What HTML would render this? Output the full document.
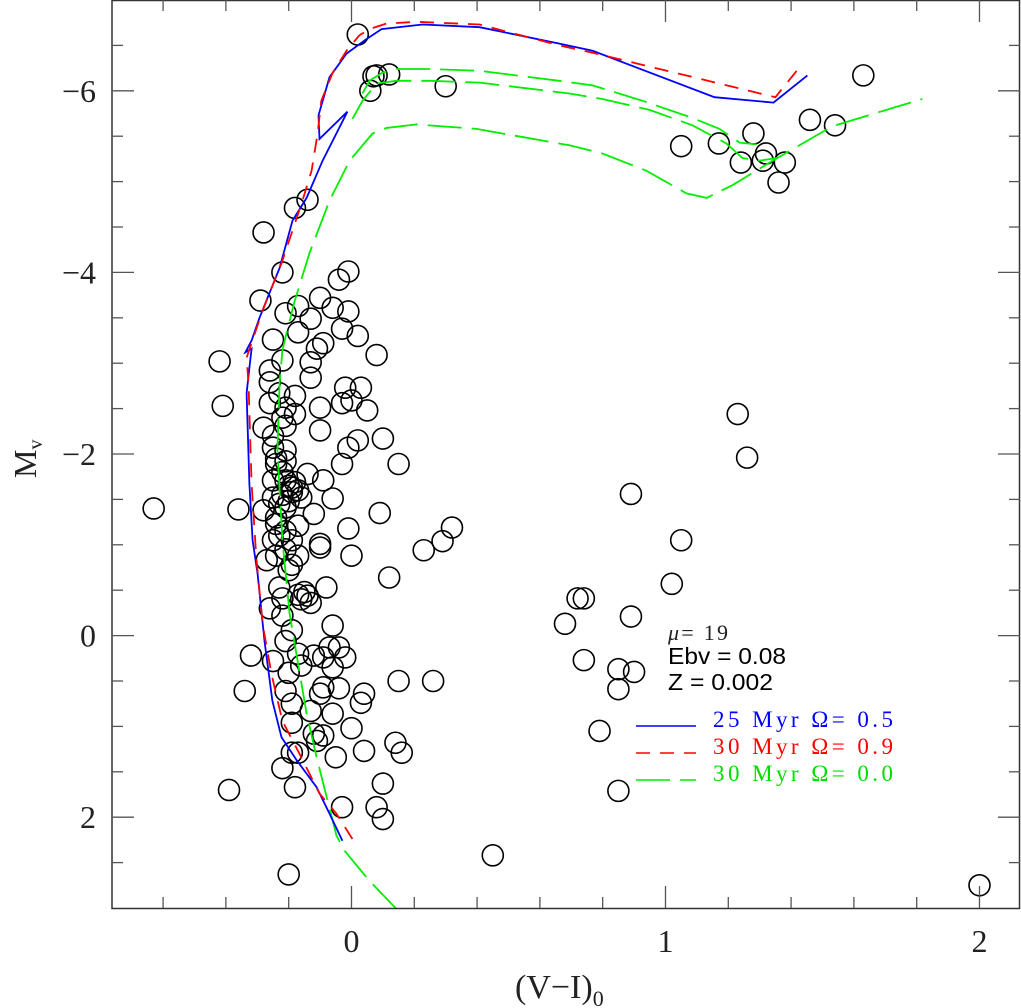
<!DOCTYPE html>
<html><head><meta charset="utf-8"><style>
html,body{margin:0;padding:0;background:#fff;}
svg{display:block;}
</style></head><body>
<svg id="chart" width="1021" height="1008" viewBox="0 0 1021 1008" xmlns="http://www.w3.org/2000/svg">
<g id="marks"></g>
<g id="axes"></g>
<g>
<text x="668" y="640" font-family="Liberation Serif, serif" font-size="22" fill="#222" textLength="60" lengthAdjust="spacing"><tspan font-style="italic">μ</tspan>=  19</text>
<text x="668" y="664" font-family="Liberation Sans, sans-serif" font-size="23" fill="#000" textLength="118" lengthAdjust="spacingAndGlyphs">Ebv = 0.08</text>
<text x="668" y="690" font-family="Liberation Sans, sans-serif" font-size="23" fill="#000" textLength="105" lengthAdjust="spacingAndGlyphs">Z = 0.002</text>
</g>
<g>
<line x1="636" y1="726" x2="696" y2="726" stroke="#0000ff" stroke-width="1.5"/>
<text x="713" y="727" font-family="Liberation Serif, serif" font-size="23" fill="#0000ff" textLength="180" lengthAdjust="spacing">25  Myr  Ω=  0.5</text>
<line x1="636" y1="753" x2="696" y2="753" stroke="#ff0000" stroke-width="1.5" stroke-dasharray="14 10"/>
<text x="713" y="754" font-family="Liberation Serif, serif" font-size="23" fill="#ff0000" textLength="180" lengthAdjust="spacing">30  Myr  Ω=  0.9</text>
<line x1="636" y1="780" x2="696" y2="780" stroke="#00ee00" stroke-width="1.5" stroke-dasharray="34 10"/>
<text x="713" y="781" font-family="Liberation Serif, serif" font-size="23" fill="#00dd00" textLength="180" lengthAdjust="spacing">30  Myr  Ω=  0.0</text>
</g>
<text x="515" y="998" font-family="Liberation Serif, serif" font-size="34" fill="#222">(V−I)<tspan font-size="22" dy="8">0</tspan></text>
<text transform="translate(36,478) rotate(-90)" font-family="Liberation Serif, serif" font-size="32" fill="#222">M<tspan font-size="20" dy="6">v</tspan></text>
</svg>
<script>
const starsVI = [0.02,0.07,0.08,0.12,0.06,0.30,1.05,1.17,1.28,1.24,1.32,1.31,1.38,1.36,1.46,1.54,1.63,-0.18,-0.14,-0.28,-0.42,-0.41,-0.63,-0.36,-0.39,-0.20,2.00,0.45,1.23,1.26,0.89,1.05,1.02,0.72,0.74,0.68,0.89,0.74,0.85,0.90,0.85,0.79,0.85,0.23,0.29,0.32,0.26,
-0.22,-0.01,-0.04,-0.29,-0.10,-0.17,-0.21,-0.06,-0.01,-0.13,-0.03,0.02,-0.17,-0.25,-0.09,0.08,-0.11,-0.22,-0.13,-0.26,-0.13,-0.02,0.03,-0.26,-0.23,-0.18,0.00,0.05,-0.03,-0.26,-0.10,-0.18,-0.21,-0.28,-0.10,-0.21,0.10,0.02,-0.01,-0.25,-0.21,-0.03,0.15,-0.24,-0.14,-0.09,-0.06,-0.25,-0.21,-0.19,-0.25,0.09,-0.12,-0.28,-0.21,-0.24,-0.17,-0.01,-0.10,-0.25,-0.19,
-0.20,-0.19,-0.17,-0.22,-0.20,-0.18,-0.23,-0.16,-0.22,-0.24,-0.21,-0.22,-0.25,-0.24,-0.21,-0.23,
-0.10,0.00,0.12,-0.24,-0.17,-0.27,-0.20,-0.08,-0.23,-0.14,-0.13,-0.22,-0.26,-0.22,-0.06,-0.19,-0.21,-0.32,-0.25,-0.17,-0.07,-0.04,-0.12,-0.09,-0.02,-0.16,-0.20,-0.06,0.15,-0.34,-0.21,-0.09,-0.04,0.04,-0.10,-0.19,0.03,-0.13,-0.06,-0.19,0.00,-0.09,-0.12,-0.11,0.04,0.14,0.16,-0.19,-0.17,-0.05,-0.22,0.10,-0.18,-0.03,0.08,0.10,
-0.21,-0.19,-0.15,-0.16,-0.17];
const starsMv = [-6.62,-6.16,-6.17,-6.18,-6.0,-6.05,-5.39,-5.42,-5.53,-5.21,-5.31,-5.23,-5.21,-4.99,-5.68,-5.62,-6.17,-4.71,-4.80,-4.44,-3.02,-2.53,-1.40,-1.39,1.70,2.63,2.75,2.42,-2.44,-1.96,-1.56,-1.05,-0.57,-0.41,-0.41,-0.13,-0.21,0.27,0.37,0.40,0.59,1.05,1.71,-0.94,-1.04,-1.19,0.50,
-4.00,-4.01,-3.92,-3.69,-3.72,-3.63,-3.55,-3.61,-3.57,-3.49,-3.38,-3.30,-3.34,-3.26,-3.22,-3.09,-3.16,-3.03,-3.01,-2.92,-2.84,-2.73,-2.73,-2.79,-2.67,-2.64,-2.59,-2.48,-2.56,-2.56,-2.51,-2.44,-2.51,-2.29,-2.26,-2.31,-2.17,-2.15,-2.07,-2.07,-2.04,-1.89,-1.89,-1.89,-1.78,-1.71,-1.51,-1.71,-1.71,-1.63,-1.52,-1.35,-1.34,-1.38,-1.41,-1.23,-1.21,-1.18,-1.01,-1.05,-1.05,
-1.65,-1.58,-1.60,-1.55,-1.48,-1.69,-1.45,-1.52,-1.80,-1.95,-1.92,-2.40,-2.20,-1.30,-1.15,-1.10,
-0.97,-0.88,-0.64,-0.88,-0.88,-0.83,-0.72,-0.53,-0.53,-0.44,-0.36,-0.41,-0.30,-0.22,-0.11,-0.06,0.06,0.22,0.28,0.20,0.13,0.13,0.22,0.24,0.24,0.33,0.41,0.35,0.50,0.61,0.61,0.57,0.58,0.64,0.64,0.75,0.74,0.83,0.86,0.96,1.02,1.10,1.08,1.16,1.27,1.18,1.29,1.29,1.29,1.34,1.46,1.63,1.67,1.89,1.89,2.02,
-0.95,-0.78,-0.48,-0.40,-0.45];
const blueVI = [-0.029,-0.070,-0.111,-0.175,-0.223,-0.252,-0.277,-0.299,-0.315,-0.325,-0.334,-0.325,-0.318,-0.338,-0.318,-0.293,-0.229,-0.188,-0.143,-0.092,-0.013,-0.102,-0.105,-0.070,-0.016,0.048,0.096,0.226,0.408,0.662,0.768,1.156,1.344,1.452];
const blueMv = [2.26,1.96,1.67,1.37,1.12,0.72,0.06,-0.68,-1.05,-1.67,-2.67,-2.95,-3.16,-3.12,-3.25,-3.50,-4.05,-4.57,-4.82,-5.23,-5.77,-5.47,-5.73,-6.15,-6.41,-6.57,-6.68,-6.73,-6.70,-6.52,-6.44,-5.93,-5.87,-6.17];
const redVI = [0.003,-0.048,-0.102,-0.166,-0.220,-0.255,-0.283,-0.303,-0.318,-0.328,-0.334,-0.283,-0.223,-0.159,-0.127,-0.108,-0.096,-0.061,-0.016,0.025,0.057,0.111,0.207,0.408,0.662,0.768,1.350,1.427];
const redMv = [2.24,1.96,1.74,1.30,0.94,0.42,-0.13,-0.86,-1.67,-2.78,-3.06,-3.58,-4.10,-4.76,-5.12,-5.53,-5.89,-6.19,-6.44,-6.61,-6.68,-6.74,-6.76,-6.73,-6.50,-6.42,-5.93,-6.26];
const greenAVI = [0.143,0.057,-0.022,-0.048,-0.111,-0.143,-0.197,-0.220,-0.236,-0.229,-0.220,-0.207,-0.182,-0.134,-0.070,-0.006,0.067,0.111,0.207,0.398,0.694,0.799,0.939,1.067,1.131,1.213,1.341,1.532,1.818];
const greenAMv = [3.01,2.70,2.37,2.20,1.34,0.86,-0.24,-1.05,-2.04,-2.78,-3.14,-3.33,-3.67,-4.21,-4.79,-5.23,-5.53,-5.59,-5.63,-5.58,-5.40,-5.31,-5.12,-4.87,-4.82,-4.96,-5.23,-5.61,-5.91];
const greenBVI = [0.003,0.035,0.080,0.143,0.248,0.408,0.694,0.799,0.949,1.086,1.194,1.245,1.299,1.354];
const greenBMv = [-5.69,-5.89,-6.08,-6.11,-6.11,-6.09,-5.97,-5.91,-5.79,-5.62,-5.42,-5.26,-5.23,-5.26];
const greenCVI = [0.035,0.057,0.099,0.143,0.248,0.408,0.662,0.768,0.927,1.086,1.172,1.236,1.290];
const greenCMv = [-5.97,-6.11,-6.20,-6.24,-6.24,-6.22,-6.11,-6.06,-5.89,-5.70,-5.58,-5.43,-5.41];
const xTickLabels = [0,1,2];
const yTickLabels = [-6,-4,-2,0,2];

const NS='http://www.w3.org/2000/svg';
const L=112,R=1020,T=0,B=908;
const xMin=-0.7627,xMax=2.129,yMin=-7,yMax=3;
function sx(v){return L+(v-xMin)/(xMax-xMin)*(R-L);}
function sy(v){return T+(v-yMin)/(yMax-yMin)*(B-T);}
function mk(tag,attrs,parent){const e=document.createElementNS(NS,tag);for(const k in attrs)e.setAttribute(k,attrs[k]);parent.appendChild(e);return e;}
const marks=document.getElementById('marks');
const axes=document.getElementById('axes');
for(let i=0;i<starsVI.length;i++){
  const c=mk('circle',{cx:sx(starsVI[i]),cy:sy(starsMv[i]),r:10.5,fill:'none',stroke:'#000','stroke-width':1.6},marks);
  
  
}
function line(xs,ys,color,dash,name){
  const d=xs.map((v,i)=>(i?'L':'M')+sx(v).toFixed(1)+' '+sy(ys[i]).toFixed(1)).join(' ');
  const p=mk('path',{d:d,fill:'none',stroke:color,'stroke-width':1.8,'stroke-dasharray':dash},marks);
  
  
}
line(greenAVI,greenAMv,'#00ee00','34 10','isochrone-green-a');
line(greenBVI,greenBMv,'#00ee00','34 10','isochrone-green-b');
line(greenCVI,greenCMv,'#00ee00','34 10','isochrone-green-c');
line(blueVI,blueMv,'#0000ff','none','isochrone-blue');
line(redVI,redMv,'#ff0000','14 10','isochrone-red');
const fr=mk('rect',{x:L,y:T+0.5,width:R-L-0.5,height:B-T,fill:'none',stroke:'#333','stroke-width':1.5},axes);


for(let k=-3;k<=10;k++){
  const v=k*0.2; if(v<xMin||v>xMax)continue;
  const major=Math.abs(v-Math.round(v))<1e-6;
  const len=major?22:11;
  const t1=mk('line',{x1:sx(v),y1:B,x2:sx(v),y2:B-len,stroke:'#555','stroke-width':1.3},axes);
  
  
  const t2=mk('line',{x1:sx(v),y1:T,x2:sx(v),y2:T+len,stroke:'#555','stroke-width':1.3},axes);
  
  
}
xTickLabels.forEach(v=>{
  const t=mk('text',{x:sx(v),y:952,'text-anchor':'middle','font-family':'Liberation Serif, serif','font-size':32,fill:'#222'},axes);
  t.textContent=String(v);
  
  
});
for(let k=-14;k<=6;k++){
  const v=k*0.5; if(v<=yMin||v>=yMax)continue;
  const major=(k%4===0);
  const len=major?22:11;
  const t1=mk('line',{x1:L,y1:sy(v),x2:L+len,y2:sy(v),stroke:'#555','stroke-width':1.3},axes);
  
  
  const t2=mk('line',{x1:R,y1:sy(v),x2:R-len,y2:sy(v),stroke:'#555','stroke-width':1.3},axes);
  
  
}
yTickLabels.forEach(v=>{
  const t=mk('text',{x:96,y:sy(v)+11,'text-anchor':'end','font-family':'Liberation Serif, serif','font-size':32,fill:'#222'},axes);
  t.textContent=v<0?'−'+Math.abs(v):String(v);
  
  
});
</script>
</body></html>
